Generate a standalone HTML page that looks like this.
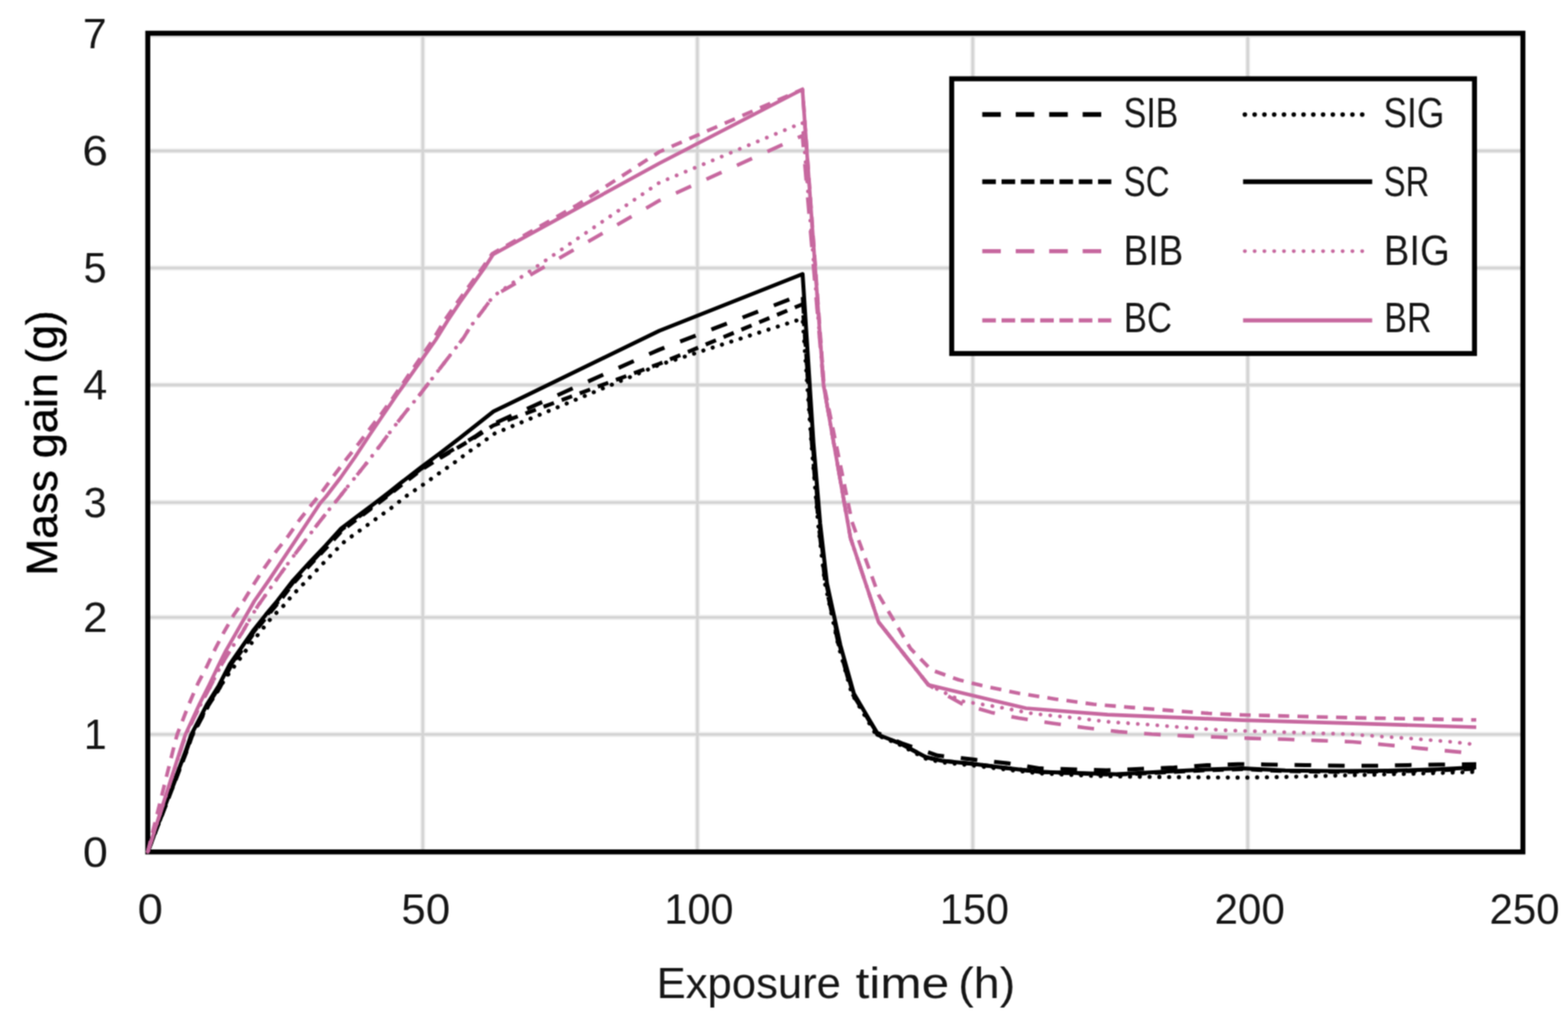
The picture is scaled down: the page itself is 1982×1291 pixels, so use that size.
<!DOCTYPE html>
<html lang="en"><head><meta charset="utf-8"><title>Mass gain vs exposure time</title>
<style>html,body{margin:0;padding:0;background:#fff;}body{width:1982px;height:1291px;overflow:hidden;}svg{display:block;font-family:"Liberation Sans",sans-serif;}</style>
</head><body>
<svg role="img" aria-label="Mass gain versus exposure time" width="1982" height="1291" viewBox="0 0 1982 1291">
<defs><filter id="soft" filterUnits="userSpaceOnUse" x="0" y="0" width="1982" height="1291" color-interpolation-filters="sRGB"><feConvolveMatrix order="3" kernelMatrix="1 2 1 2 4 2 1 2 1" divisor="16" edgeMode="duplicate"/></filter><filter id="softt" filterUnits="userSpaceOnUse" x="0" y="0" width="1982" height="1291" color-interpolation-filters="sRGB"><feConvolveMatrix order="3" kernelMatrix="1 2 1 2 4 2 1 2 1" divisor="16" edgeMode="duplicate"/></filter></defs>
<g filter="url(#soft)">
<rect x="0" y="0" width="1982" height="1291" fill="#ffffff"/>
<g stroke="#efefef" stroke-width="6.6" fill="none">
<line x1="534.4" y1="42.0" x2="534.4" y2="1077.2"/>
<line x1="881.5" y1="42.0" x2="881.5" y2="1077.2"/>
<line x1="1229.6" y1="42.0" x2="1229.6" y2="1077.2"/>
<line x1="1577.2" y1="42.0" x2="1577.2" y2="1077.2"/>
<line x1="186.8" y1="928.6" x2="1925.0" y2="928.6"/>
<line x1="186.8" y1="780.6" x2="1925.0" y2="780.6"/>
<line x1="186.8" y1="635.4" x2="1925.0" y2="635.4"/>
<line x1="186.8" y1="486.8" x2="1925.0" y2="486.8"/>
<line x1="186.8" y1="338.9" x2="1925.0" y2="338.9"/>
<line x1="186.8" y1="190.8" x2="1925.0" y2="190.8"/>
<line x1="186.8" y1="44.7" x2="1925.0" y2="44.7"/>
</g>
<g stroke="#d4d4d4" stroke-width="3.4" fill="none">
<line x1="534.4" y1="42.0" x2="534.4" y2="1077.2"/>
<line x1="881.5" y1="42.0" x2="881.5" y2="1077.2"/>
<line x1="1229.6" y1="42.0" x2="1229.6" y2="1077.2"/>
<line x1="1577.2" y1="42.0" x2="1577.2" y2="1077.2"/>
<line x1="186.8" y1="928.6" x2="1925.0" y2="928.6"/>
<line x1="186.8" y1="780.6" x2="1925.0" y2="780.6"/>
<line x1="186.8" y1="635.4" x2="1925.0" y2="635.4"/>
<line x1="186.8" y1="486.8" x2="1925.0" y2="486.8"/>
<line x1="186.8" y1="338.9" x2="1925.0" y2="338.9"/>
<line x1="186.8" y1="190.8" x2="1925.0" y2="190.8"/>
<line x1="186.8" y1="44.7" x2="1925.0" y2="44.7"/>
</g>
<rect x="186.8" y="42.0" width="1738.2" height="1035.2" fill="none" stroke="#000" stroke-width="6.3"/>
<g fill="none" stroke-linejoin="round" stroke-linecap="butt">
<path d="M186.8,1077.0 L235.1,950.8 L242.4,929.8 L262.8,891.2 L277.3,868.3 L291.4,841.0 L307.6,817.8 L321.7,797.6 L336.8,778.5 L351.1,761.3 L371.4,735.2 L391.6,713.0 L411.8,691.8 L432.0,669.6 L452.2,654.3 L472.3,639.3 L492.5,623.8 L506.9,612.3 L532.2,592.8 L553.1,580.0 L580.4,564.0 L600.5,552.0 L623.5,536.0 L833.4,442.1 L1014.5,372.2 L1026.2,560.0 L1034.7,662.0 L1043.2,737.0 L1060.2,815.6 L1077.3,877.0 L1108.5,926.5 L1140.0,939.8 L1185.0,955.3 L1230.0,960.3 L1275.0,965.3 L1314.6,971.6 L1398.5,974.0 L1484.0,970.5 L1526.0,967.6 L1565.0,966.2 L1600.0,966.7 L1650.0,967.4 L1700.0,968.3 L1740.0,968.3 L1780.0,967.4 L1820.0,966.7 L1866.0,966.2" stroke="#000000" stroke-width="5.0" stroke-dasharray="21 21.3"/>
<path d="M186.8,1077.0 L235.5,950.0 L243.0,928.9 L264.5,890.0 L272.5,878.1 L285.1,857.4 L299.7,837.7 L313.8,818.5 L328.5,799.4 L343.6,780.7 L360.8,763.5 L368.6,753.6 L385.3,736.5 L401.9,719.3 L418.6,701.6 L435.7,684.5 L455.4,670.4 L475.1,656.2 L494.8,642.1 L513.7,627.1 L533.9,613.5 L553.6,599.4 L573.2,585.8 L593.0,571.0 L612.7,557.4 L623.3,549.0 L833.4,461.3 L1014.5,402.8 L1025.6,560.0 L1034.1,662.0 L1042.6,737.0 L1059.6,815.6 L1076.7,877.0 L1107.4,929.0 L1137.2,941.5 L1170.7,959.5 L1190.9,964.0 L1231.0,968.0 L1271.0,973.0 L1314.6,978.0 L1379.0,981.0 L1461.5,982.4 L1570.0,983.2 L1620.0,982.5 L1700.0,980.5 L1800.0,978.0 L1866.0,976.0" stroke="#000000" stroke-width="5.2" stroke-dasharray="0.1 12.26" stroke-linecap="round"/>
<path d="M186.8,1077.0 L235.4,951.4 L242.8,930.5 L263.3,892.2 L277.9,869.3 L292.0,842.0 L308.2,818.8 L322.3,798.6 L337.4,779.5 L351.7,762.3 L372.0,736.2 L392.2,714.0 L412.4,692.8 L432.6,670.6 L452.8,655.3 L472.9,640.3 L493.1,624.8 L507.5,613.3 L532.8,593.8 L553.1,581.0 L580.4,565.0 L600.5,553.0 L623.5,538.0 L833.4,460.0 L1014.5,384.7 L1027.2,560.0 L1035.7,662.0 L1044.2,737.0 L1061.2,815.6 L1078.3,877.0 L1109.0,929.0 L1137.2,939.8 L1170.7,957.5 L1190.9,962.0 L1231.0,966.0 L1271.0,971.0 L1314.6,976.0 L1379.0,978.5 L1411.0,979.5 L1476.0,976.5 L1524.5,974.0 L1570.0,972.5 L1624.6,975.0 L1689.0,976.0 L1754.0,975.5 L1818.0,974.0 L1866.0,972.0" stroke="#000000" stroke-width="5.0" stroke-dasharray="14 10.4"/>
<path d="M186.8,1077.0 L234.6,950.0 L241.8,928.9 L262.0,890.0 L276.5,867.0 L290.6,839.7 L306.8,816.5 L320.9,796.3 L336.0,777.2 L350.3,760.0 L370.6,733.9 L390.8,711.7 L411.0,690.5 L431.2,668.3 L451.4,653.0 L471.5,638.0 L491.7,622.5 L506.1,611.0 L531.4,591.5 L556.6,572.7 L580.4,554.5 L623.8,520.3 L833.4,418.3 L1014.5,346.5 L1028.2,560.0 L1036.7,662.0 L1045.2,737.0 L1062.2,815.6 L1079.3,877.0 L1110.0,929.0 L1137.2,939.8 L1170.7,957.5 L1190.9,962.0 L1231.0,966.0 L1271.0,971.0 L1314.6,976.0 L1379.0,978.0 L1411.0,979.0 L1476.0,975.5 L1524.5,973.0 L1570.0,971.5 L1624.6,974.3 L1689.0,975.1 L1754.0,974.6 L1818.0,972.7 L1866.0,970.3" stroke="#000000" stroke-width="5.0"/>
<path d="M186.8,1077.0 L228.0,950.0 L235.0,928.9 L254.0,890.0 L267.0,866.0 L279.0,842.0 L292.7,819.5 L305.8,800.4 L317.9,779.2 L326.0,766.0 L337.3,750.0 L345.4,738.5 L356.5,723.0 L366.6,709.0 L378.7,693.0 L388.8,679.5 L402.9,661.0 L417.1,643.0 L427.1,631.0 L440.5,614.0 L452.7,598.9 L463.8,585.0 L481.9,561.5 L491.0,549.0 L504.1,532.0 L514.2,519.2 L531.4,498.0 L586.0,427.1 L594.0,414.0 L609.2,394.0 L616.2,384.5 L623.3,374.7 L833.4,253.6 L1014.3,171.5 L1041.0,487.0 L1075.0,680.0 L1110.5,786.5 L1173.5,866.0 L1216.0,890.0 L1253.2,900.9 L1287.9,908.1 L1329.9,914.6 L1371.9,920.2 L1413.9,925.1 L1455.8,928.3 L1497.8,930.4 L1539.8,932.0 L1582.6,933.6 L1624.6,934.8 L1667.4,936.4 L1709.3,938.0 L1751.3,941.7 L1794.1,946.1 L1836.1,950.1 L1866.0,953.0" stroke="#c7689f" stroke-width="4.6" stroke-dasharray="21 21.3"/>
<path d="M186.8,1077.0 L228.0,950.0 L235.0,928.9 L254.0,890.0 L267.0,866.0 L279.0,842.0 L292.7,819.5 L305.8,800.4 L317.9,779.2 L326.0,766.0 L337.3,750.0 L345.4,738.5 L356.5,723.0 L366.6,709.0 L378.7,693.0 L388.8,679.5 L402.9,661.0 L417.1,643.0 L427.1,631.0 L440.5,614.0 L452.7,598.9 L463.8,585.0 L481.9,561.5 L491.0,549.0 L504.1,532.0 L514.2,519.2 L531.4,498.0 L586.0,427.1 L594.0,414.0 L609.2,394.0 L616.2,384.5 L623.3,374.7 L833.4,231.0 L1014.3,155.1 L1041.0,487.0 L1075.0,680.0 L1110.5,786.5 L1173.5,866.0 L1216.0,886.5 L1259.7,893.6 L1306.5,902.5 L1354.9,907.3 L1403.4,913.0 L1451.8,916.2 L1500.2,920.2 L1548.7,923.5 L1624.6,925.9 L1705.3,928.3 L1737.6,930.7 L1786.0,934.0 L1834.5,938.0 L1866.0,941.5" stroke="#c7689f" stroke-width="4.8" stroke-dasharray="0.1 12.26" stroke-linecap="round"/>
<path d="M186.8,1077.0 L218.4,950.0 L223.9,928.9 L239.0,890.0 L250.3,863.9 L261.4,842.7 L272.5,819.5 L283.6,798.3 L295.7,777.2 L307.8,760.0 L321.2,738.0 L334.3,717.8 L349.4,696.6 L364.6,677.4 L378.7,657.2 L393.8,638.1 L406.2,623.1 L422.4,600.9 L438.5,579.7 L453.7,560.5 L468.8,540.4 L482.9,522.2 L496.0,504.0 L547.0,430.0 L562.0,405.0 L577.5,383.0 L593.0,361.5 L608.5,340.5 L622.0,321.0 L730.0,259.0 L833.4,192.0 L1014.3,113.0 L1041.5,487.0 L1077.0,660.0 L1110.5,752.0 L1151.0,820.2 L1177.0,847.0 L1211.5,859.5 L1240.0,866.6 L1287.1,876.6 L1334.0,883.9 L1382.4,890.5 L1430.8,894.6 L1479.3,898.4 L1527.7,902.0 L1570.0,904.0 L1710.0,907.6 L1866.0,910.3" stroke="#c7689f" stroke-width="4.6" stroke-dasharray="14 10.4"/>
<path d="M186.8,1077.0 L227.5,950.0 L234.3,928.9 L252.3,890.0 L264.4,866.0 L276.5,840.7 L285.6,822.6 L296.7,803.4 L308.8,782.2 L321.5,760.0 L340.4,732.9 L356.5,708.7 L372.7,684.5 L388.8,660.3 L404.9,636.1 L412.0,628.0 L430.5,604.0 L448.6,578.2 L466.8,550.5 L483.9,525.2 L501.1,500.0 L550.6,430.0 L565.8,405.5 L580.9,383.0 L596.0,361.6 L611.2,340.4 L623.3,321.7 L833.4,206.5 L1014.3,113.0 L1041.0,487.0 L1075.0,680.0 L1110.5,786.5 L1173.5,866.0 L1296.8,895.5 L1400.0,903.6 L1570.0,910.6 L1710.0,914.6 L1866.0,919.5" stroke="#c7689f" stroke-width="4.6"/>
</g>
<rect x="1203.0" y="99.6" width="660.8" height="347.4" fill="#fff" stroke="#000" stroke-width="6.3"/>
<line x1="1241.6" y1="144.8" x2="1404.7" y2="144.8" stroke="#000000" stroke-width="6.0" stroke-dasharray="23.5 18.8"/>
<line x1="1573.5" y1="144.8" x2="1722.6" y2="144.8" stroke="#000000" stroke-width="5.7" stroke-dasharray="0.1 12.26" stroke-linecap="round"/>
<line x1="1241.6" y1="229.7" x2="1404.7" y2="229.7" stroke="#000000" stroke-width="6.0" stroke-dasharray="17.2 7.2"/>
<line x1="1571.3" y1="229.7" x2="1734.5" y2="229.7" stroke="#000000" stroke-width="6.0"/>
<line x1="1241.6" y1="317.6" x2="1404.7" y2="317.6" stroke="#c7689f" stroke-width="5.2" stroke-dasharray="23.5 18.8"/>
<line x1="1573.5" y1="317.6" x2="1722.6" y2="317.6" stroke="#c7689f" stroke-width="4.9" stroke-dasharray="0.1 12.26" stroke-linecap="round"/>
<line x1="1241.6" y1="405.2" x2="1404.7" y2="405.2" stroke="#c7689f" stroke-width="5.2" stroke-dasharray="17.2 7.2"/>
<line x1="1571.3" y1="405.2" x2="1734.5" y2="405.2" stroke="#c7689f" stroke-width="5.2"/>
</g>
<g filter="url(#softt)">
<text transform="translate(1420.27,160.50) scale(0.7957,1)" font-size="54.00" fill="#161616" stroke="#161616" stroke-width="0.00">SIB</text>
<text transform="translate(1748.79,160.50) scale(0.8274,1)" font-size="54.00" fill="#161616" stroke="#161616" stroke-width="0.00">SIG</text>
<text transform="translate(1420.32,248.30) scale(0.7734,1)" font-size="54.00" fill="#161616" stroke="#161616" stroke-width="0.00">SC</text>
<text transform="translate(1748.93,248.30) scale(0.7693,1)" font-size="54.00" fill="#161616" stroke="#161616" stroke-width="0.00">SR</text>
<text transform="translate(1420.24,335.40) scale(0.8661,1)" font-size="54.00" fill="#161616" stroke="#161616" stroke-width="0.00">BIB</text>
<text transform="translate(1749.32,335.40) scale(0.8934,1)" font-size="54.00" fill="#161616" stroke="#161616" stroke-width="0.00">BIG</text>
<text transform="translate(1420.47,419.90) scale(0.8138,1)" font-size="54.00" fill="#161616" stroke="#161616" stroke-width="0.00">BC</text>
<text transform="translate(1749.74,419.90) scale(0.7981,1)" font-size="54.00" fill="#161616" stroke="#161616" stroke-width="0.00">BR</text>
<text transform="translate(104.83,1095.70) scale(1.0648,1)" font-size="53.30" fill="#161616" stroke="#161616" stroke-width="0.00">0</text>
<text transform="translate(106.00,947.10) scale(0.9760,1)" font-size="53.30" fill="#161616" stroke="#161616" stroke-width="0.00">1</text>
<text transform="translate(104.92,799.10) scale(1.0432,1)" font-size="53.30" fill="#161616" stroke="#161616" stroke-width="0.00">2</text>
<text transform="translate(105.73,653.90) scale(0.9835,1)" font-size="53.30" fill="#161616" stroke="#161616" stroke-width="0.00">3</text>
<text transform="translate(104.96,505.30) scale(1.0328,1)" font-size="53.30" fill="#161616" stroke="#161616" stroke-width="0.00">4</text>
<text transform="translate(105.49,357.40) scale(0.9875,1)" font-size="53.30" fill="#161616" stroke="#161616" stroke-width="0.00">5</text>
<text transform="translate(104.08,209.30) scale(1.0953,1)" font-size="53.30" fill="#161616" stroke="#161616" stroke-width="0.00">6</text>
<text transform="translate(104.76,60.50) scale(1.0158,1)" font-size="53.30" fill="#161616" stroke="#161616" stroke-width="0.00">7</text>
<text transform="translate(174.00,1167.80) scale(1.0766,1)" font-size="53.30" fill="#161616" stroke="#161616" stroke-width="0.00">0</text>
<text transform="translate(507.28,1167.80) scale(1.0412,1)" font-size="53.30" fill="#161616" stroke="#161616" stroke-width="0.00">50</text>
<text transform="translate(839.77,1167.80) scale(0.9833,1)" font-size="53.30" fill="#161616" stroke="#161616" stroke-width="0.00">100</text>
<text transform="translate(1188.07,1167.80) scale(0.9833,1)" font-size="53.30" fill="#161616" stroke="#161616" stroke-width="0.00">150</text>
<text transform="translate(1535.24,1167.80) scale(0.9998,1)" font-size="53.30" fill="#161616" stroke="#161616" stroke-width="0.00">200</text>
<text transform="translate(1882.64,1167.80) scale(0.9975,1)" font-size="53.30" fill="#161616" stroke="#161616" stroke-width="0.00">250</text>
<text transform="translate(829.95,1261.60) scale(0.9784,1)" font-size="56.40" fill="#161616" stroke="#161616" stroke-width="0.00">Exposure</text>
<text transform="translate(1081.46,1261.60) scale(1.1113,1)" font-size="56.40" fill="#161616" stroke="#161616" stroke-width="0.00">time</text>
<text transform="translate(1211.21,1261.60) scale(1.0469,1)" font-size="56.40" fill="#161616" stroke="#161616" stroke-width="0.00">(h)</text>
<text transform="translate(72.10,723.50) rotate(-90) translate(-4.20,0) scale(0.9885,1)" font-size="56.40" fill="#000" stroke="#000" stroke-width="0.60">Mass</text>
<text transform="translate(72.10,723.50) rotate(-90) translate(144.07,0) scale(1.0126,1)" font-size="56.40" fill="#000" stroke="#000" stroke-width="0.60">gain</text>
<text transform="translate(72.10,723.50) rotate(-90) translate(263.45,0) scale(0.9790,1)" font-size="56.40" fill="#000" stroke="#000" stroke-width="0.60">(g)</text>
</g>
</svg>
</body></html>
